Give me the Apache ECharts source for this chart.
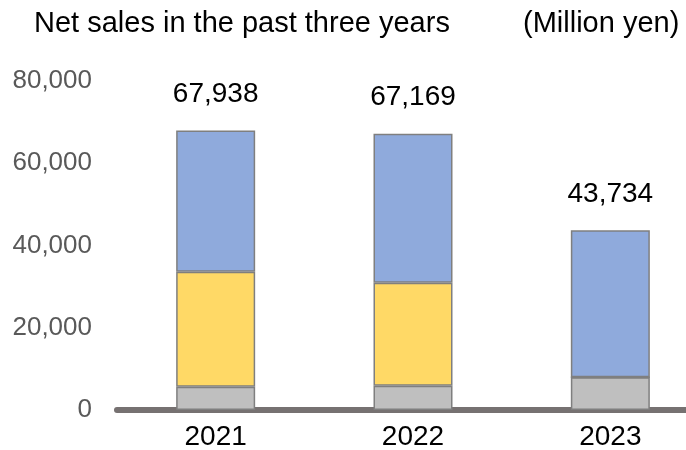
<!DOCTYPE html>
<html>
<head>
<meta charset="utf-8">
<script src="https://cdn.jsdelivr.net/npm/echarts@6/dist/echarts.min.js"></script>
<style>
  html, body { margin: 0; padding: 0; background: #fff; }
  #chart { width: 686px; height: 450px; }
</style>
</head>
<body>
<div id="chart"></div>
<script>
const years = ['2021', '2022', '2023']
const greyPart = [5670, 5910, 7950]
const yellowPart = [27970, 25056, 0]
const bluePart = [34298, 36203, 35784]
const totals = [67938, 67169, 43734]
const yTicks = [0, 20000, 40000, 60000, 80000]

const chart = echarts.init(document.getElementById('chart'))
const font = '"Liberation Sans", Arial, sans-serif'
const border = { borderColor: '#7f7f7f', borderWidth: 1.5 }

chart.setOption({
  animation: false,
  textStyle: { fontFamily: font },
  title: [{
    text: 'Net sales in the past three years',
    left: 29,
    top: 4,
    textStyle: { fontSize: 29, fontWeight: 'normal', color: '#000', fontFamily: font }
  }, {
    text: '(Million yen)',
    left: 518,
    top: 4,
    textStyle: { fontSize: 29, fontWeight: 'normal', color: '#000', fontFamily: font }
  }],
  grid: {
    left: 117,
    top: 81,
    width: 592,
    height: 329,
    outerBoundsMode: 'none'
  },
  xAxis: {
    type: 'category',
    data: years,
    axisTick: { show: false },
    axisLine: { lineStyle: { color: '#767171', width: 6 } },
    axisLabel: { color: '#000', fontSize: 28, margin: 13, fontFamily: font }
  },
  yAxis: {
    type: 'value',
    min: yTicks[0],
    max: yTicks[yTicks.length - 1],
    interval: yTicks[1] - yTicks[0],
    splitLine: { show: false },
    axisLine: { show: false },
    axisTick: { show: false },
    axisLabel: {
      color: '#595959',
      fontSize: 26,
      margin: 25,
      fontFamily: font,
      formatter: v => v.toLocaleString('en-US')
    }
  },
  series: [{
    type: 'bar',
    stack: 'sales',
    barWidth: 79,
    data: greyPart,
    itemStyle: Object.assign({ color: '#bfbfbf' }, border)
  }, {
    type: 'bar',
    stack: 'sales',
    barWidth: 79,
    data: yellowPart,
    itemStyle: Object.assign({ color: '#ffd966' }, border)
  }, {
    type: 'bar',
    stack: 'sales',
    barWidth: 79,
    data: bluePart,
    itemStyle: Object.assign({ color: '#8faadc' }, border),
    label: {
      show: true,
      position: 'top',
      distance: 22,
      color: '#000',
      fontSize: 28,
      fontFamily: font,
      formatter: p => totals[p.dataIndex].toLocaleString('en-US')
    }
  }]
})
</script>
</body>
</html>
